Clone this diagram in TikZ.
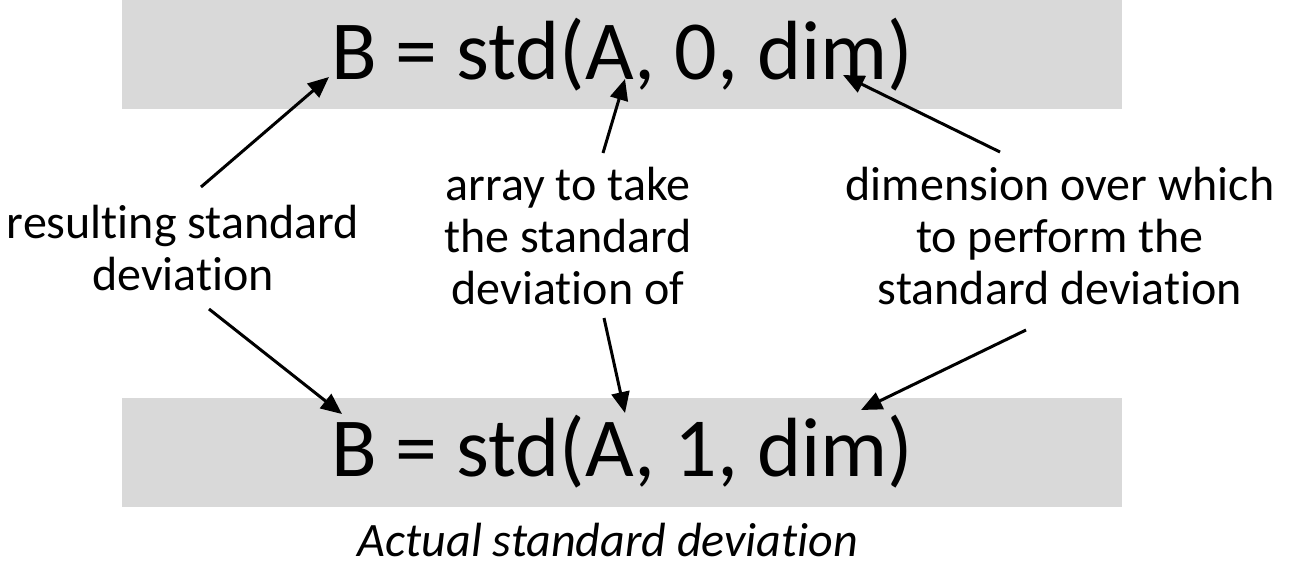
\documentclass[tikz,border=0pt]{standalone}
\usepackage{fontspec}
\setmainfont[Ligatures=NoCommon]{Carlito}
\usepackage{tikz}
\usetikzlibrary{arrows.meta, calc, positioning}
\definecolor{std-gray}{HTML}{D9D9D9}
\definecolor{std-ink}{HTML}{000000}

\tikzset{
  callbox/.style={fill=std-gray, minimum width=1000pt, minimum height=109pt, inner sep=0pt,
    font=\fontsize{84}{100}\selectfont},
  note/.style={align=center, inner sep=0pt, font=\fontsize{48}{52}\selectfont},
  pointer/.style={-{Triangle[length=21pt, width=18pt]}, line width=3pt, std-ink}
}

\begin{document}
\begin{tikzpicture}[x=1pt, y=-1pt, line cap=butt, line join=round]
  \useasboundingbox (0,0) rectangle (1293,568);
  \node[callbox] (top) at (622,54.5) {B = std(A, 0, dim)};
  \node[callbox] (bot) at (622,452) {B = std(A, 1, dim)};
  \node[font=\itshape\fontsize{48}{56}\selectfont, inner sep=0pt] (caption) at (608,540) {Actual standard deviation};
  \node[note] (result) at (183,248) {resulting standard\\deviation};
  \node[note] (array) at (568,236) {array to take\\the standard\\deviation of};
  \node[note] (dimn) at (1060,236) {dimension over which\\to perform the\\standard deviation};
  % arrow ends
  \coordinate (resT) at (201,187);  \coordinate (resH) at (329,77);
  \coordinate (arrT) at (603,153);  \coordinate (arrH) at (625,79);
  \coordinate (dimT) at (1000,152); \coordinate (dimH) at (843,75);
  \coordinate (resT2) at (209,309); \coordinate (resH2) at (342,414);
  \coordinate (arrT2) at (604,318); \coordinate (arrH2) at (625,413);
  \coordinate (dimT2) at (1026,330); \coordinate (dimH2) at (861,410);
  \draw[pointer] (resT) -- (resH);
  \draw[pointer] (arrT) -- (arrH);
  \draw[pointer] (dimT) -- (dimH);
  \draw[pointer] (resT2) -- (resH2);
  \draw[pointer] (arrT2) -- (arrH2);
  \draw[pointer] (dimT2) -- (dimH2);
\end{tikzpicture}
\end{document}
